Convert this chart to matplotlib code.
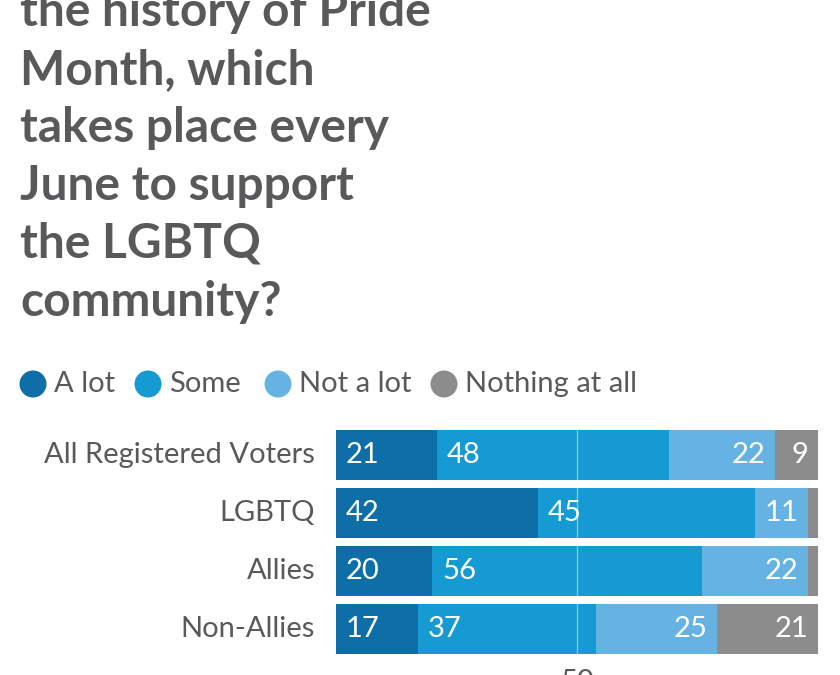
import matplotlib
matplotlib.use("Agg")
import matplotlib.pyplot as plt
import numpy as np

plt.rcParams['font.family'] = ['Lato', 'DejaVu Sans']

groups = ["All Registered Voters", "LGBTQ", "Allies", "Non-Allies"]
answers = ["A lot", "Some", "Not a lot", "Nothing at all"]
a_lot = [21, 42, 20, 17]
some = [48, 45, 56, 37]
not_a_lot = [22, 11, 22, 25]
nothing = [9, 2, 2, 21]
colors = ["#0e6ea8", "#159ad3", "#66b3e3", "#8c8c8c"]

title_lines = ["the history of Pride", "Month, which", "takes place every",
               "June to support", "the LGBTQ", "community?"]

W, H = 840, 675
fig = plt.figure(figsize=(W / 100, H / 100), dpi=100)

# overlay in pixel coords for title + legend
ov = fig.add_axes([0, 0, 1, 1])
ov.set_xlim(0, W)
ov.set_ylim(H, 0)
ov.axis('off')

for i, line in enumerate(title_lines):
    ov.text(20, 26 + i * 58, line, fontsize=34.5, fontweight='bold',
            color='#58595b', va='baseline', ha='left')

leg_x = [33, 148, 278, 444]
for x, lab, c in zip(leg_x, answers, colors):
    ov.add_patch(plt.Circle((x, 384), 13.5, color=c, lw=0))
    ov.text(x + 21, 384, lab, fontsize=21, color='#58595b',
            va='center', ha='left')

# bar chart
ax = fig.add_axes([336 / W, (H - 654) / H, 482 / W, 224 / H])
ax.set_zorder(2)
h = 50 / 58
y = np.arange(len(groups))
series = [a_lot, some, not_a_lot, nothing]
left = np.zeros(len(groups))
for k, (vals, c) in enumerate(zip(series, colors)):
    vals = np.array(vals)
    ax.barh(y, vals, left=left, height=h, color=c, lw=0)
    for yi, v, l in zip(y, vals, left):
        if v < 5:
            continue
        if k < 2:
            ax.text(l + 2.0, yi, str(v), color='white', fontsize=21,
                    va='center', ha='left')
        else:
            ax.text(l + v - 2.0, yi, str(v), color='white', fontsize=21,
                    va='center', ha='right')
    left = left + vals

ax.axvline(50, color='white', alpha=0.45, lw=1)
ax.set_xlim(0, 100)
ax.set_ylim(len(groups) - 1 + h / 2, -h / 2)
ax.set_yticks(y - 0.04)
ax.set_yticklabels(groups, fontsize=21, color='#58595b')
ax.set_xticks([50])
ax.set_xticklabels(["50"], fontsize=21, color='#58595b')
ax.tick_params(axis='y', length=0, pad=15)
ax.tick_params(axis='x', length=0, pad=11)
for s in ax.spines.values():
    s.set_visible(False)

fig.savefig("out.png", dpi=100)
